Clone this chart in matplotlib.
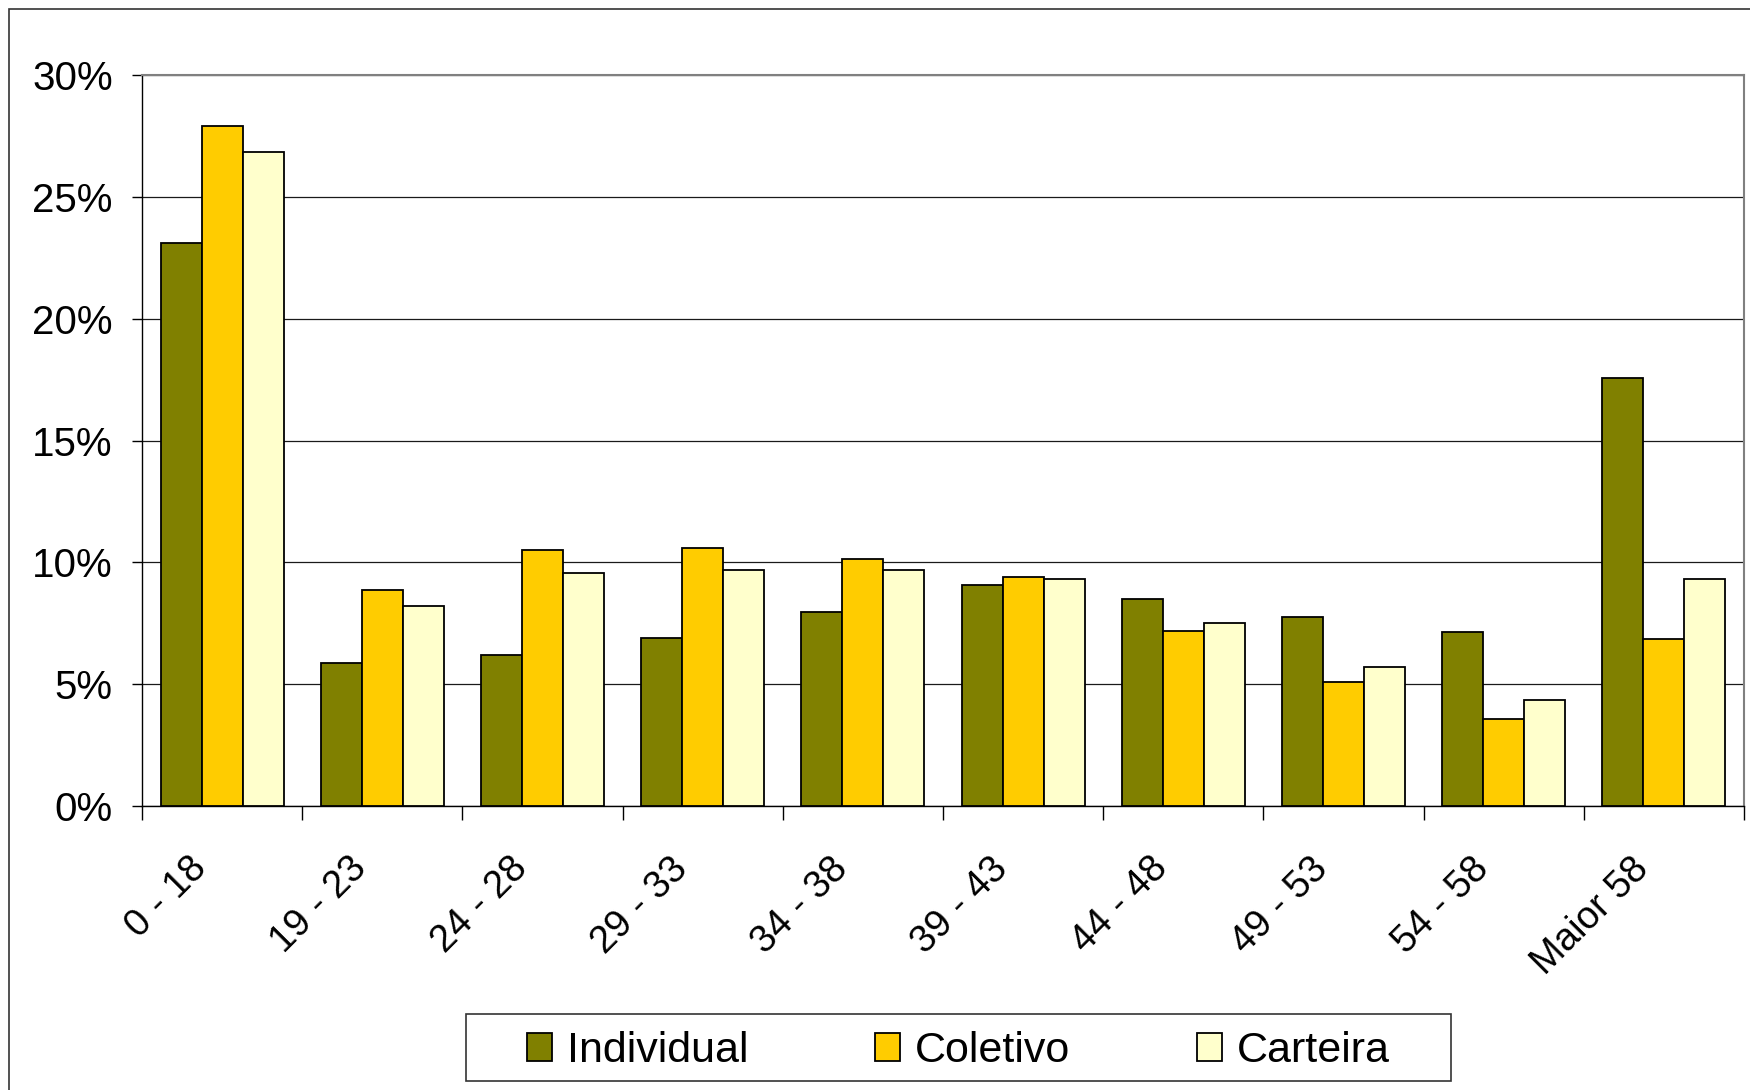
import matplotlib
matplotlib.use("Agg")
import matplotlib.pyplot as plt
from matplotlib.patches import Rectangle, Patch
from matplotlib.ticker import FixedLocator, FuncFormatter
import matplotlib.transforms as mtransforms
import numpy as np

plt.rcParams['font.family'] = ['Liberation Sans', 'DejaVu Sans']

# Age bands and share of beneficiaries (%) per plan type
faixas = ["0 - 18", "19 - 23", "24 - 28", "29 - 33", "34 - 38",
          "39 - 43", "44 - 48", "49 - 53", "54 - 58", "Maior 58"]
individual = [23.1, 5.85, 6.2, 6.9, 7.95, 9.05, 8.5, 7.75, 7.15, 17.55]
coletivo = [27.9, 8.85, 10.5, 10.6, 10.15, 9.4, 7.2, 5.1, 3.55, 6.85]
carteira = [26.85, 8.2, 9.55, 9.7, 9.7, 9.3, 7.5, 5.7, 4.35, 9.3]
series_names = ["Individual", "Coletivo", "Carteira"]
y_ticks = [0, 5, 10, 15, 20, 25, 30]

colors = ["#808000", "#FFCC00", "#FFFFCC"]

W, H = 1750, 1090
fig = plt.figure(figsize=(W / 100, H / 100), dpi=100)
ax = fig.add_axes([142 / W, 1 - 806 / H, (1744 - 142) / W, (806 - 75) / H])

n = len(faixas)
x = np.arange(n)
bw = 0.256
for i, (vals, c) in enumerate(zip([individual, coletivo, carteira], colors)):
    ax.bar(x + (i - 1) * bw, vals, width=bw, color=c, edgecolor="black",
           linewidth=1.3, zorder=3)

ax.set_xlim(-0.5, n - 0.5)
ax.set_ylim(0, 30)

# y axis
ax.set_yticks(y_ticks)
ax.yaxis.set_major_formatter(FuncFormatter(lambda v, p: f"{v:.0f}%"))
ax.tick_params(axis="y", direction="out", length=7, width=1, color="black",
               pad=14, labelsize=29)
ax.grid(axis="y", color="#1a1a1a", linewidth=0.9, zorder=0)

# x axis: tick marks at category boundaries, labels at centers
ax.xaxis.set_major_locator(FixedLocator(np.arange(n + 1) - 0.5))
ax.xaxis.set_minor_locator(FixedLocator(x))
ax.set_xticklabels([], minor=False)
ax.set_xticklabels(faixas, minor=True, rotation=45, ha="right", va="top")
ax.tick_params(axis="x", which="major", direction="out", length=10, width=1,
               color="black")
ax.tick_params(axis="x", which="minor", length=0, pad=32, labelsize=27.5)
shift = mtransforms.ScaledTranslation(-8 / 100, 0, fig.dpi_scale_trans)
for lab in ax.get_xticklabels(minor=True):
    lab.set_transform(lab.get_transform() + shift)

for s in ["top", "right"]:
    ax.spines[s].set_color("#808080")
    ax.spines[s].set_linewidth(1.5)
for s in ["left", "bottom"]:
    ax.spines[s].set_color("black")
    ax.spines[s].set_linewidth(1.0)

# outer chart frame
fig.patches.append(Rectangle((9 / W, -0.2), 1.5, 1.2 - 9 / H + 0.0,
                             transform=fig.transFigure, fill=False,
                             edgecolor="#333333", linewidth=1.2))

# legend box and entries
fig.patches.append(Rectangle((466 / W, 1 - 1081 / H), (1451 - 466) / W,
                             (1081 - 1014) / H, transform=fig.transFigure,
                             facecolor="white", edgecolor="#333333",
                             linewidth=1.2))
handles = [Patch(facecolor=c, edgecolor="black", linewidth=1.3) for c in colors]
fig.legend(handles, series_names, loc="center",
           bbox_to_anchor=((466 + 1451) / 2 / W, 1 - (1014 + 1081) / 2 / H - 4 / H),
           ncol=3, frameon=False, fontsize=31, handlelength=0.58,
           handleheight=0.63, handletextpad=0.34, columnspacing=2.95,
           borderpad=0.1)

fig.savefig("out.png", dpi=100, facecolor="white")
